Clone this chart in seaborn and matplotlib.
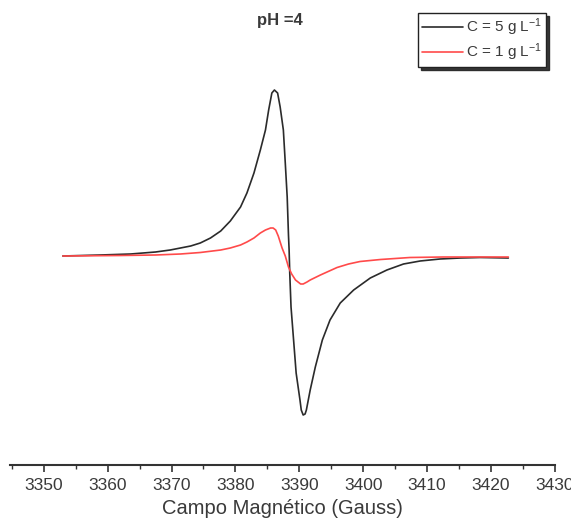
import matplotlib
matplotlib.use("Agg")
import matplotlib.pyplot as plt
from matplotlib.ticker import MultipleLocator
import seaborn as sns
import pandas as pd

# EPR first-derivative spectra at pH 4 (field in Gauss, signal in arbitrary units)
field_5 = [3353.0, 3358.9, 3363.6, 3367.5, 3369.8, 3371.4, 3373.0, 3374.5, 3376.1,
           3377.7, 3379.2, 3380.8, 3381.8, 3382.9, 3383.9, 3384.7, 3385.2, 3385.7,
           3386.1, 3386.6, 3387.0, 3387.5, 3387.8, 3388.1, 3388.3, 3388.4, 3388.5,
           3388.7, 3389.1, 3389.5, 3390.1, 3390.3, 3390.6, 3390.9, 3391.1, 3391.7,
           3392.5, 3393.6, 3394.8, 3396.4, 3398.5, 3401.1, 3403.7, 3406.3, 3408.9,
           3412.0, 3415.2, 3418.3, 3422.7]
signal_5 = [0, 1, 2, 4, 6, 8, 10, 13, 18,
            25, 35, 49, 63, 83, 106, 126, 146, 163,
            166, 163, 149, 126, 93, 59, 21, 6, -17,
            -51, -84, -117, -144, -154, -159, -158, -154, -134,
            -111, -84, -64, -47, -34, -22, -14, -8, -5,
            -3, -2, -1.5, -2]

field_1 = [3353.0, 3362.0, 3367.5, 3371.4, 3374.5, 3377.7, 3379.2, 3380.8, 3381.8,
           3382.9, 3383.9, 3384.7, 3385.5, 3385.9, 3386.3, 3386.7, 3387.3, 3387.8,
           3388.3, 3388.8, 3389.4, 3390.2, 3390.6, 3391.2, 3391.7, 3393.3, 3395.9,
           3397.7, 3399.5, 3402.7, 3407.3, 3412.5, 3422.7]
signal_1 = [0, 0.5, 1, 2, 3.5, 6, 8, 11, 14,
            18, 23, 26, 28, 28, 26, 20, 8, 0,
            -11, -18, -24, -28, -28, -26, -24, -19, -11.5,
            -8, -5.5, -3.5, -1.5, -1, -1]

series_labels = [r"C = 5 g L$^{-1}$", r"C = 1 g L$^{-1}$"]
series_colors = ["#2b2b2b", "#ff4a4a"]
x_ticks = [3350, 3360, 3370, 3380, 3390, 3400, 3410, 3420, 3430]

df = pd.concat([
    pd.DataFrame({"field": field_5, "signal": signal_5, "sample": series_labels[0]}),
    pd.DataFrame({"field": field_1, "signal": signal_1, "sample": series_labels[1]}),
])

sns.set_theme(style="white")
plt.rcParams["font.family"] = ["Liberation Sans", "DejaVu Sans"]
plt.rcParams["mathtext.fontset"] = "custom"
plt.rcParams["mathtext.rm"] = "Liberation Sans"
plt.rcParams["mathtext.it"] = "Liberation Sans:italic"
plt.rcParams["mathtext.bf"] = "Liberation Sans:bold"

text_color = "#3a3a3a"

fig = plt.figure(figsize=(5.71, 5.29), dpi=100)
ax = fig.add_axes([9.8 / 571, 64 / 529, (555 - 9.8) / 571, (465 - 60) / 529])

sns.lineplot(data=df, x="field", y="signal", hue="sample", hue_order=series_labels,
             palette=series_colors, sort=False, estimator=None, linewidth=1.2,
             legend=False, ax=ax)

ax.set_xlim(3344.7, 3430)
ax.set_ylim(-209, 196)

for side in ["left", "right", "top"]:
    ax.spines[side].set_visible(False)
ax.spines["bottom"].set_color("#333333")
ax.spines["bottom"].set_linewidth(1.5)

ax.set_yticks([])
ax.set_xticks(x_ticks)
ax.xaxis.set_minor_locator(MultipleLocator(5))
ax.tick_params(axis="x", which="major", direction="out", length=5, width=1.2,
               color="#333333", labelsize=12.5, labelcolor=text_color, pad=4, bottom=True)
ax.tick_params(axis="x", which="minor", direction="out", length=3, width=1.0,
               color="#333333", bottom=True)

ax.set_xlabel("Campo Magnético (Gauss)", fontsize=14.5, color=text_color, labelpad=5)
ax.set_ylabel("")

fig.text(0.49, 0.962, "pH =4", ha="center", va="center", fontsize=12,
         fontweight="bold", color=text_color)

handles = [plt.Line2D([], [], color=c, linewidth=1.2) for c in series_colors]
leg = ax.legend(handles, series_labels, loc="upper left",
                bbox_to_anchor=(418 / 571, 1 - 13 / 529), bbox_transform=fig.transFigure,
                borderaxespad=0, frameon=True, fancybox=False,
                shadow={"color": "#222222", "alpha": 0.9},
                fontsize=11, handlelength=2.7, handletextpad=0.2,
                labelspacing=0.22, borderpad=0.25, labelcolor=text_color)
leg.get_frame().set_edgecolor("#222222")
leg.get_frame().set_linewidth(1.0)
leg.get_frame().set_alpha(1)

fig.savefig("out.png", dpi=100, facecolor="white")
